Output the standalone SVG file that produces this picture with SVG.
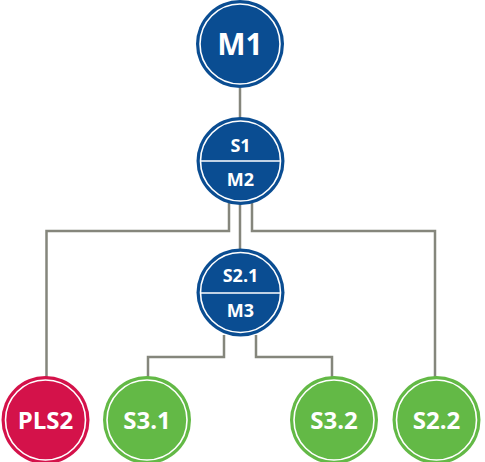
<svg xmlns="http://www.w3.org/2000/svg" width="485" height="462" viewBox="0 0 485 462">
<style>
.c{fill:none;stroke:#85867c;stroke-width:2.5}
.blue{fill:#0a4d92}
.red{fill:#d4124a}
.green{fill:#63b946}
.ring{fill:none;stroke:#fff;stroke-width:1.6}
.t{fill:#fff;font-family:"Open Sans","Noto Sans",sans-serif;font-weight:700;text-anchor:middle}
</style>
<rect width="485" height="462" fill="#fff"/>
<g id="connectors">
<path class="c" d="M240 88V118"/>
<path class="c" d="M229 203V231H46.5V377"/>
<path class="c" d="M240 203V249"/>
<path class="c" d="M252 203V231H435V377"/>
<path class="c" d="M224 335V357H148V377"/>
<path class="c" d="M256 335V357H332V377"/>
</g>
<g id="M1">
<circle class="blue" cx="240" cy="44" r="44"/>
<circle class="ring" cx="240" cy="44" r="40"/>
<text class="t" x="240" y="55" font-size="30">M1</text>
</g>
<g id="S1M2">
<circle class="blue" cx="240.5" cy="161" r="44"/>
<circle class="ring" cx="240.5" cy="161" r="40"/>
<line x1="200.5" y1="161" x2="280.5" y2="161" stroke="#fff" stroke-width="1.6"/>
<text class="t" x="240.5" y="152" font-size="18">S1</text>
<text class="t" x="240.5" y="186" font-size="18">M2</text>
</g>
<g id="S21M3">
<circle class="blue" cx="240.5" cy="292.5" r="44"/>
<circle class="ring" cx="240.5" cy="292.5" r="40"/>
<line x1="200.5" y1="293" x2="280.5" y2="293" stroke="#fff" stroke-width="1.6"/>
<text class="t" x="240.5" y="282" font-size="18">S2.1</text>
<text class="t" x="240.5" y="317" font-size="18">M3</text>
</g>
<g id="PLS2">
<circle class="red" cx="45.5" cy="420" r="44"/>
<circle class="ring" cx="45.5" cy="420" r="40"/>
<text class="t" x="45.5" y="429" font-size="24">PLS2</text>
</g>
<g id="S31">
<circle class="green" cx="147" cy="420" r="44"/>
<circle class="ring" cx="147" cy="420" r="40"/>
<text class="t" x="147" y="429" font-size="24">S3.1</text>
</g>
<g id="S32">
<circle class="green" cx="334" cy="420" r="44"/>
<circle class="ring" cx="334" cy="420" r="40"/>
<text class="t" x="334" y="429" font-size="24">S3.2</text>
</g>
<g id="S22">
<circle class="green" cx="436.5" cy="420" r="44"/>
<circle class="ring" cx="436.5" cy="420" r="40"/>
<text class="t" x="436.5" y="429" font-size="24">S2.2</text>
</g>
</svg>
